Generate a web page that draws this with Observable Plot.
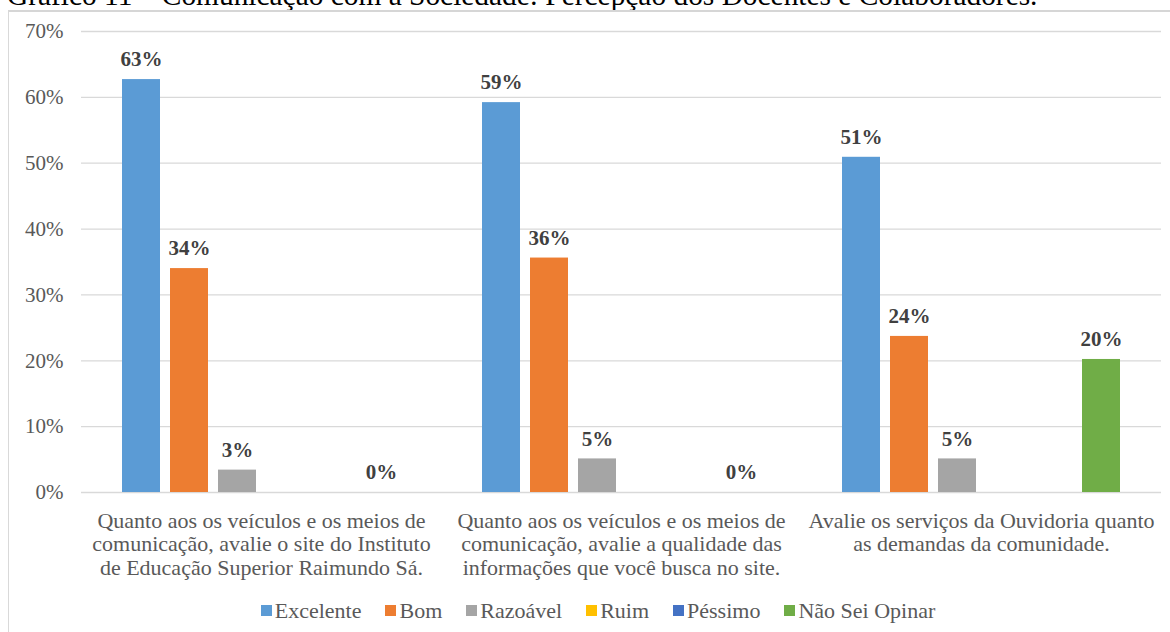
<!DOCTYPE html>
<html>
<head>
<meta charset="utf-8">
<script src="https://cdn.jsdelivr.net/npm/d3@7"></script>
<script src="https://cdn.jsdelivr.net/npm/@observablehq/plot@0.6"></script>
<style>
html,body{margin:0;padding:0;background:#fff;width:1170px;height:632px;overflow:hidden;position:relative;font-family:"Liberation Serif","Times New Roman",serif;}
#title{position:absolute;left:7px;top:-17px;font-size:29.4px;line-height:24px;color:#000;white-space:nowrap;}
#chart{position:absolute;left:0;top:0;}
#legend{position:absolute;left:0;top:594px;width:1196px;display:flex;justify-content:center;}
#legend .lg-swatches{font-family:"Liberation Serif","Times New Roman",serif !important;font-size:22px !important;color:#595959 !important;margin:0 !important;}
#legend .lg-swatch{margin-right:24px !important;}
#legend .lg-swatch:last-child{margin-right:0 !important;}
#legend .lg-swatch > svg{margin-right:3px !important;}
#frame{position:absolute;left:8px;top:10px;width:1200px;height:700px;border-left:1.5px solid #d9d9d9;border-top:2px solid #d6d6d6;box-sizing:border-box;pointer-events:none;}
</style>
</head>
<body>
<div id="title">Gráfico 11 – Comunicação com a Sociedade: Percepção dos Docentes e Colaboradores.</div>
<div id="chart"></div>
<div id="legend"></div>
<div id="frame"></div>
<script>
// Categories (questions)
const groups = [
  "Quanto aos os veículos e os meios de comunicação, avalie o site do Instituto de Educação Superior Raimundo Sá.",
  "Quanto aos os veículos e os meios de comunicação, avalie a qualidade das informações que você busca no site.",
  "Avalie os serviços da Ouvidoria quanto as demandas da comunidade."
];
// Wrapped category labels as shown on the axis
const groupLabels = [
  "Quanto aos os veículos e os meios de\ncomunicação, avalie o site do Instituto\nde Educação Superior Raimundo Sá.",
  "Quanto aos os veículos e os meios de\ncomunicação, avalie a qualidade das\ninformações que você busca no site.",
  "Avalie os serviços da Ouvidoria quanto\nas demandas da comunidade."
];
// Series
const series = ["Excelente", "Bom", "Razoável", "Ruim", "Péssimo", "Não Sei Opinar"];
const seriesColors = ["#5b9bd5", "#ed7d31", "#a5a5a5", "#ffc000", "#4472c4", "#70ad47"];
// Values (%) per series, one per question
const excelente = [62.7, 59.2, 50.9];
const bom = [34.0, 35.6, 23.7];
const razoavel = [3.4, 5.1, 5.1];
const ruim = [null, null, null];
const pessimo = [null, null, null];
const naoSeiOpinar = [0, 0, 20.2];
// Y tick values
const yTicks = [0, 10, 20, 30, 40, 50, 60, 70];

const seriesValues = [excelente, bom, razoavel, ruim, pessimo, naoSeiOpinar];
const rows = [];
groups.forEach((g, i) => {
  series.forEach((s, j) => {
    rows.push({group: g, series: s, value: seriesValues[j][i]});
  });
});
const shown = rows.filter(d => d.value != null);
const labelOf = Object.fromEntries(groups.map((g, i) => [g, groupLabels[i]]));

const chart = Plot.plot({
  width: 1170,
  height: 587,
  marginLeft: 80,
  marginRight: 8,
  marginTop: 31,
  marginBottom: 95,
  style: {fontFamily: '"Liberation Serif","Times New Roman",serif', fontSize: "21px", color: "#595959", background: "transparent"},
  fx: {domain: groups, padding: 0, axis: null},
  x: {domain: series, axis: null, paddingInner: 0.2, paddingOuter: 0.85},
  y: {domain: [0, 70], ticks: yTicks, tickFormat: d => d + "%", tickSize: 0, tickPadding: 18, label: null},
  color: {domain: series, range: seriesColors},
  marks: [
    Plot.ruleY(yTicks, {stroke: "#d9d9d9", strokeWidth: 1.3}),
    Plot.barY(shown, {fx: "group", x: "series", y: "value", fill: "series"}),
    Plot.text(shown, {fx: "group", x: "series", y: "value", text: d => Math.round(d.value) + "%", dy: -20, fontWeight: "bold", fontSize: 21, fill: "#404040"}),
    Plot.text(groups, {fx: d => d, text: d => labelOf[d], frameAnchor: "bottom", lineAnchor: "top", dy: 18.5, lineHeight: 1.07, fontSize: 22, fill: "#595959"})
  ]
});
document.getElementById("chart").appendChild(chart);

const legend = Plot.legend({color: {domain: series, range: seriesColors}, swatchSize: 11, className: "lg"});
document.getElementById("legend").appendChild(legend);
</script>
</body>
</html>
